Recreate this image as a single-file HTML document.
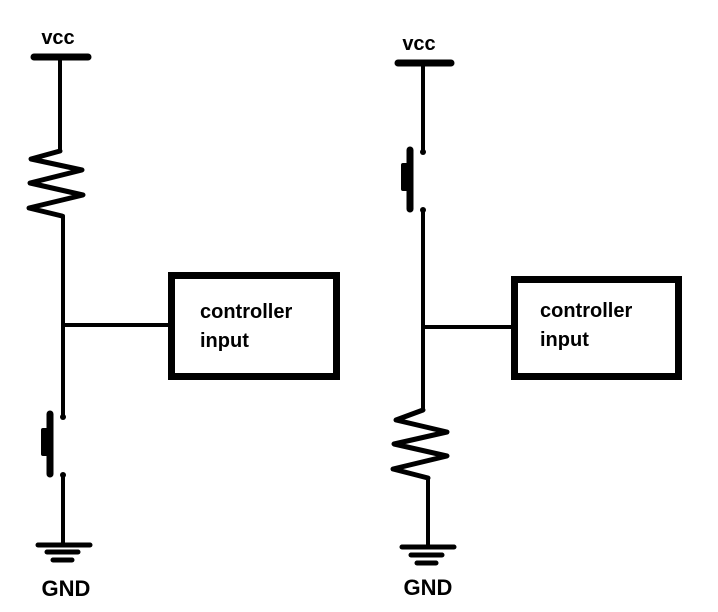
<!DOCTYPE html>
<html><head><meta charset="utf-8"><style>
html,body{margin:0;padding:0;background:#fff;}
svg{display:block;}
text{font-family:"Liberation Sans",sans-serif;font-weight:bold;fill:#000;}
</style></head><body>
<svg width="718" height="612" viewBox="0 0 718 612" xmlns="http://www.w3.org/2000/svg">
<g stroke="#000" fill="none" stroke-linecap="round" stroke-linejoin="round">
<!-- LEFT -->
<line x1="34" y1="57" x2="88" y2="57" stroke-width="7"/>
<line x1="60" y1="57" x2="60" y2="151" stroke-width="4"/>
<polyline points="60,151 31,159 82,170 30,183 83,195 29,208 62,216" stroke-width="5"/>
<line x1="63" y1="216" x2="63" y2="417" stroke-width="4"/>
<line x1="63" y1="325" x2="171" y2="325" stroke-width="4"/>
<rect x="171.5" y="275.5" width="165" height="101" stroke-width="7" stroke-linecap="butt" stroke-linejoin="miter"/>
<circle cx="63" cy="417" r="3" fill="#000" stroke="none"/>
<line x1="50" y1="414" x2="50" y2="474" stroke-width="7"/>
<rect x="41" y="428" width="8" height="28" fill="#000" stroke="none" rx="2"/>
<circle cx="63" cy="475" r="3" fill="#000" stroke="none"/>
<line x1="63" y1="475" x2="63" y2="545" stroke-width="4"/>
<line x1="38" y1="545" x2="90" y2="545" stroke-width="5"/>
<line x1="47" y1="552" x2="78" y2="552" stroke-width="5"/>
<line x1="53" y1="560" x2="72" y2="560" stroke-width="5"/>
<!-- RIGHT -->
<line x1="398" y1="63" x2="451" y2="63" stroke-width="7"/>
<line x1="423" y1="63" x2="423" y2="152" stroke-width="4"/>
<circle cx="423" cy="152" r="3" fill="#000" stroke="none"/>
<line x1="410" y1="150" x2="410" y2="209" stroke-width="7"/>
<rect x="401" y="163" width="8" height="28" fill="#000" stroke="none" rx="2"/>
<circle cx="423" cy="210" r="3" fill="#000" stroke="none"/>
<line x1="423" y1="210" x2="423" y2="410" stroke-width="4"/>
<line x1="423" y1="327" x2="512" y2="327" stroke-width="4"/>
<rect x="514.5" y="279.5" width="164" height="97" stroke-width="7" stroke-linecap="butt" stroke-linejoin="miter"/>
<polyline points="423,410 396,420 447,432 394,444 447,456 393,469 428,478" stroke-width="5"/>
<line x1="428" y1="478" x2="428" y2="547" stroke-width="4"/>
<line x1="402" y1="547" x2="454" y2="547" stroke-width="5"/>
<line x1="411" y1="555" x2="442" y2="555" stroke-width="5"/>
<line x1="417" y1="563" x2="436" y2="563" stroke-width="5"/>
</g>
<text x="58" y="44" font-size="20" text-anchor="middle">vcc</text>
<text x="419" y="50" font-size="20" text-anchor="middle">vcc</text>
<text x="66" y="596" font-size="22" text-anchor="middle">GND</text>
<text x="428" y="595" font-size="22" text-anchor="middle">GND</text>
<text x="200" y="318" font-size="20">controller</text>
<text x="200" y="347" font-size="20">input</text>
<text x="540" y="317" font-size="20">controller</text>
<text x="540" y="346" font-size="20">input</text>
</svg>
</body></html>
